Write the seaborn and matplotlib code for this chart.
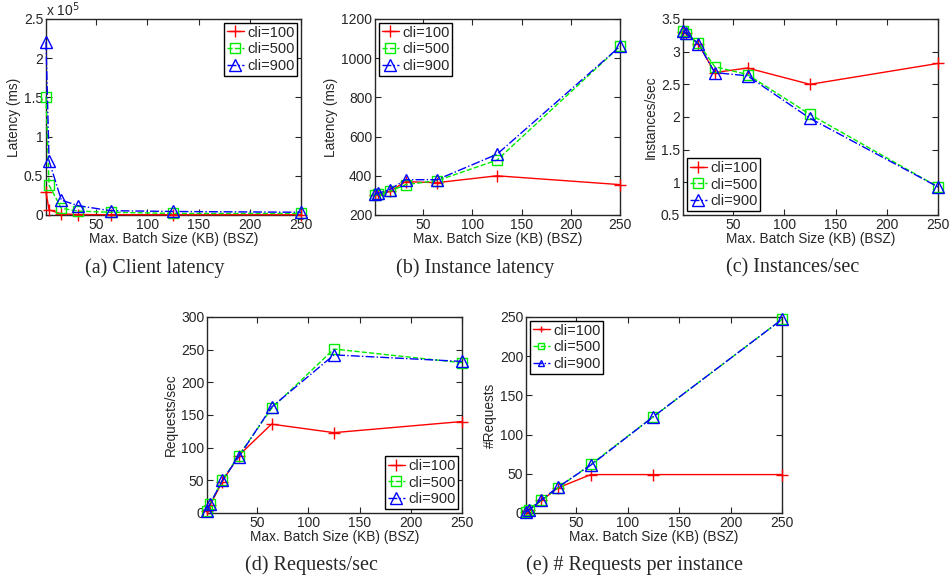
import matplotlib
matplotlib.use("Agg")
import matplotlib.pyplot as plt
import seaborn as sns
from matplotlib.ticker import FuncFormatter

# batch sizes (KB)
bsz = [1, 4, 16, 32, 64, 125, 250]
clients = ["cli=100", "cli=500", "cli=900"]

# (a) client latency (ms)
client_lat_100 = [29000, 6500, 1500, 600, 400, 300, 300]
client_lat_500 = [151000, 38000, 8500, 5000, 3500, 2000, 2000]
client_lat_900 = [221000, 69000, 19000, 12000, 5500, 4500, 3500]

# (b) instance latency (ms)
inst_lat_100 = [300, 305, 320, 370, 365, 400, 355]
inst_lat_500 = [300, 305, 320, 355, 375, 480, 1060]
inst_lat_900 = [305, 310, 330, 380, 380, 510, 1060]

# (c) instances/sec
inst_sec_100 = [3.30, 3.28, 3.12, 2.68, 2.75, 2.50, 2.82]
inst_sec_500 = [3.32, 3.27, 3.13, 2.77, 2.65, 2.04, 0.93]
inst_sec_900 = [3.32, 3.28, 3.12, 2.68, 2.63, 1.98, 0.93]

# (d) requests/sec
req_sec_100 = [3, 12, 48, 88, 136, 123, 140]
req_sec_500 = [3, 14, 50, 88, 160, 251, 230]
req_sec_900 = [3, 14, 50, 86, 162, 242, 232]

# (e) requests per instance
req_inst_100 = [1, 4, 16, 32, 49, 49, 49]
req_inst_500 = [1, 4, 16, 32, 62, 123, 247]
req_inst_900 = [1, 4, 17, 33, 61, 123, 247]

sns.set_style("ticks")
plt.rcParams["font.family"] = ["Liberation Sans", "DejaVu Sans"]
plt.rcParams["xtick.direction"] = "in"
plt.rcParams["ytick.direction"] = "in"
plt.rcParams["xtick.top"] = True
plt.rcParams["ytick.right"] = True
plt.rcParams["xtick.major.size"] = 4
plt.rcParams["ytick.major.size"] = 4
plt.rcParams["axes.linewidth"] = 1.0

colors = ["#ff0000", "#00ee00", "#0000ff"]
markers = ["+", "s", "^"]
msizes = [9, 7, 9]
styles = ["-", "--", "-."]

W, H = 951, 583
fig = plt.figure(figsize=(W / 100, H / 100), dpi=100)


def make_ax(l, t, r, b):
    return fig.add_axes([l / W, 1 - b / H, (r - l) / W, (b - t) / H])


def draw(ax, series, ylim, yticks, ylabel, loc, mscale=1.0):
    for i, ys in enumerate(series):
        sns.lineplot(x=bsz, y=ys, ax=ax, color=colors[i], marker=markers[i],
                     linestyle=styles[i], markersize=msizes[i], linewidth=1.0,
                     mfc="none", markeredgecolor=colors[i], markeredgewidth=1.0,
                     label=clients[i], clip_on=False, zorder=3)
    ax.set_xlim(1, 250)
    ax.set_xticks([50, 100, 150, 200, 250])
    ax.set_ylim(*ylim)
    ax.set_yticks(yticks)
    ax.tick_params(labelsize=10, pad=2)
    ax.set_xlabel("Max. Batch Size (KB) (BSZ)", fontsize=9.8, labelpad=0)
    ax.set_ylabel(ylabel, fontsize=9.8, labelpad=2)
    leg = ax.legend(loc=loc, fontsize=10.5, frameon=True, fancybox=False,
                    edgecolor="black", borderpad=0.2, labelspacing=0.2,
                    handlelength=1.2, handletextpad=0.2, borderaxespad=0.25,
                    markerscale=mscale, framealpha=1)
    leg.get_frame().set_linewidth(1.0)
    leg.set_zorder(5)


ax_a = make_ax(46, 19, 301, 215)
draw(ax_a, [client_lat_100, client_lat_500, client_lat_900], (0, 250000),
     [0, 50000, 100000, 150000, 200000, 250000], "Latency (ms)", "upper right")
ax_a.yaxis.set_major_formatter(FuncFormatter(lambda v, p: f"{v / 1e5:g}"))
ax_a.text(0.0, 1.0, r"x 10$^{5}$", transform=ax_a.transAxes, fontsize=10,
          va="bottom", ha="left")

ax_b = make_ax(375, 19, 620, 215)
draw(ax_b, [inst_lat_100, inst_lat_500, inst_lat_900], (200, 1200),
     [200, 400, 600, 800, 1000, 1200], "Latency (ms)", "upper left")

ax_c = make_ax(683, 19, 938, 215)
draw(ax_c, [inst_sec_100, inst_sec_500, inst_sec_900], (0.5, 3.5),
     [0.5, 1, 1.5, 2, 2.5, 3, 3.5], "Instances/sec", "lower left")
ax_c.yaxis.set_major_formatter(FuncFormatter(lambda v, p: f"{v:g}"))

ax_d = make_ax(207, 317, 462, 513)
draw(ax_d, [req_sec_100, req_sec_500, req_sec_900], (0, 300),
     [0, 50, 100, 150, 200, 250, 300], "Requests/sec", "lower right")

ax_e = make_ax(526, 317, 782, 513)
draw(ax_e, [req_inst_100, req_inst_500, req_inst_900], (0, 250),
     [0, 50, 100, 150, 200, 250], "#Requests", "upper left", mscale=0.55)

captions = [(155, 268, "(a) Client latency"), (475, 268, "(b) Instance latency"),
            (793, 268, "(c) Instances/sec"), (311, 565, "(d) Requests/sec"),
            (634, 565, "(e) # Requests per instance")]
for cx, cy, txt in captions:
    fig.text(cx / W, 1 - cy / H, txt, ha="center", va="center", fontsize=14.5,
             family=["Liberation Serif", "DejaVu Serif"])

fig.savefig("out.png", dpi=100)
